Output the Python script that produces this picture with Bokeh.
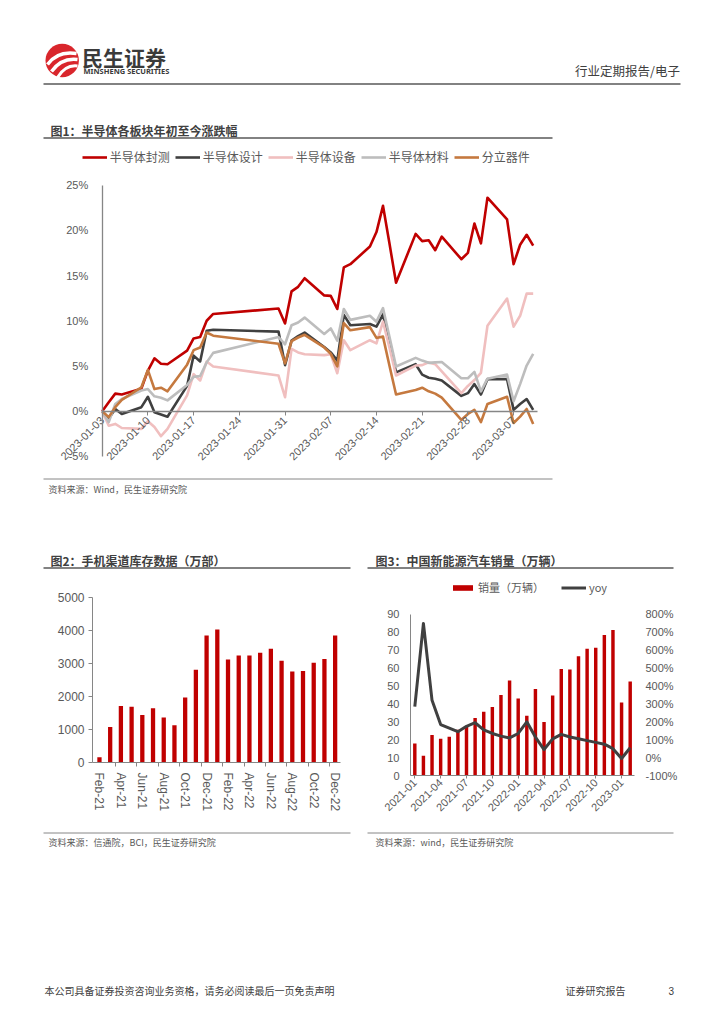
import math
import pandas as pd
from bokeh.plotting import figure
from bokeh.models import (Range1d, FixedTicker, Legend, LegendItem, LinearAxis)
from bokeh.layouts import column, row
from bokeh.embed import file_html
from bokeh.resources import INLINE
from bokeh.core.properties import value

CJK = "Noto Sans CJK SC"
NUM = "Liberation Sans"
TXT = "#404040"
SUB = "#595959"
AX = "#868686"
RED = "#C00000"

# ---------------- 图1 data ----------------
dates1 = ["2023-01-03", "2023-01-04", "2023-01-05", "2023-01-06", "2023-01-09", "2023-01-10",
          "2023-01-11", "2023-01-12", "2023-01-13", "2023-01-16", "2023-01-17", "2023-01-18",
          "2023-01-19", "2023-01-20", "2023-01-30", "2023-01-31", "2023-02-01", "2023-02-02",
          "2023-02-03", "2023-02-06", "2023-02-07", "2023-02-08", "2023-02-09", "2023-02-10",
          "2023-02-13", "2023-02-14", "2023-02-15", "2023-02-16", "2023-02-17", "2023-02-20",
          "2023-02-21", "2023-02-22", "2023-02-23", "2023-02-24", "2023-02-27", "2023-02-28",
          "2023-03-01", "2023-03-02", "2023-03-03", "2023-03-06", "2023-03-07", "2023-03-08",
          "2023-03-09", "2023-03-10"]
s_fengce = [0, 1.0, 1.95, 1.85, 2.5, 4.5, 5.85, 5.25, 5.2, 6.7, 8.05, 8.2, 10.0, 10.75,
            11.35, 9.7, 13.25, 13.75, 14.7, 12.8, 12.75, 11.3, 15.9, 16.25, 18.2, 19.8, 22.7,
            18.5, 14.2, 19.6, 18.8, 18.9, 17.8, 19.3, 16.8, 17.5, 20.75, 18.55, 23.6, 21.2,
            16.25, 18.4, 19.5, 18.3]
s_sheji = [0, -0.8, 0.25, -0.3, 0.45, 1.6, -0.1, -0.35, -0.6, 2.8, 6.15, 5.5, 8.9, 9.0,
           8.8, 5.1, 7.8, 8.3, 8.7, 7.1, 6.5, 5.6, 10.65, 9.5, 9.65, 9.35, 10.7, 7.5, 4.3,
           5.2, 4.05, 3.7, 3.6, 3.4, 1.7, 2.0, 3.0, 1.85, 3.55, 3.55, 0.15, 0.8, 1.35, 0.15]
s_shebei = [0, -1.6, -1.4, -1.85, -1.95, -1.1, -1.75, -2.75, -1.95, 1.75, 4.1, 3.4, 5.5, 4.95,
            3.95, 1.55, 6.9, 6.5, 6.3, 6.2, 6.3, 4.2, 7.85, 6.75, 7.85, 7.5, 9.9, 7.0, 3.95,
            5.05, 5.1, 5.4, 5.2, 4.4, 2.0, 2.8, 3.45, 4.25, 9.45, 12.45, 9.35, 10.55, 13.0, 13.0]
s_cailiao = [0, -1.2, 0.8, 1.35, 2.3, 2.45, 1.65, 1.5, 1.2, 2.9, 3.8, 3.9, 5.4, 6.45,
             8.2, 7.4, 9.5, 9.8, 10.35, 8.55, 9.15, 7.8, 11.3, 10.1, 10.55, 9.9, 11.4, 8.2, 4.95,
             5.9, 5.6, 5.35, 5.4, 5.45, 3.65, 3.65, 4.35, 2.2, 3.6, 4.05, 1.1, 3.0, 5.05, 6.35]
s_fenli = [0, -0.65, 0.45, 1.25, 2.65, 4.55, 2.45, 2.6, 2.2, 5.15, 6.75, 7.05, 8.7, 8.35,
           7.45, 5.3, 7.75, 8.15, 8.45, 7.05, 6.35, 4.95, 9.75, 8.95, 9.3, 8.1, 8.25, 5.0, 1.85,
           2.35, 2.6, 2.2, 1.95, 1.5, -0.95, -0.3, 0.15, -1.2, 0.8, 1.6, -1.3, -0.6, 0.25, -1.4]
names1 = ["半导体封测", "半导体设计", "半导体设备", "半导体材料", "分立器件"]
colors1 = [RED, "#404040", "#F0BFBF", "#BDBDBD", "#C5793F"]
ticks1 = ["2023-01-03", "2023-01-10", "2023-01-17", "2023-01-24", "2023-01-31",
          "2023-02-07", "2023-02-14", "2023-02-21", "2023-02-28", "2023-03-07"]
yticks1 = [-5, 0, 5, 10, 15, 20, 25]

# ---------------- 图2 data ----------------
months2 = ["Feb-21", "Mar-21", "Apr-21", "May-21", "Jun-21", "Jul-21", "Aug-21", "Sep-21",
           "Oct-21", "Nov-21", "Dec-21", "Jan-22", "Feb-22", "Mar-22", "Apr-22", "May-22",
           "Jun-22", "Jul-22", "Aug-22", "Sep-22", "Oct-22", "Nov-22", "Dec-22"]
stock2 = [160, 1080, 1715, 1690, 1445, 1645, 1365, 1130, 1970, 2815, 3855, 4035, 3130, 3250,
          3250, 3330, 3450, 3090, 2765, 2775, 3030, 3140, 3855]
yticks2 = [0, 1000, 2000, 3000, 4000, 5000]

# ---------------- 图3 data ----------------
months3 = ["2021-01", "2021-02", "2021-03", "2021-04", "2021-05", "2021-06", "2021-07",
           "2021-08", "2021-09", "2021-10", "2021-11", "2021-12", "2022-01", "2022-02",
           "2022-03", "2022-04", "2022-05", "2022-06", "2022-07", "2022-08", "2022-09",
           "2022-10", "2022-11", "2022-12", "2023-01", "2023-02"]
sales3 = [17.9, 11.0, 22.6, 20.6, 21.7, 25.6, 27.1, 32.1, 35.7, 38.3, 45.0, 53.1, 43.1, 33.4,
          48.4, 29.9, 44.7, 59.6, 59.3, 66.6, 70.8, 71.4, 78.6, 81.4, 40.8, 52.5]
yoy3 = [285, 750, 320, 185, 165, 145, 175, 195, 155, 135, 120, 110, 135, 200, 115, 45, 105,
        130, 115, 105, 95, 85, 75, 50, -5, 55]
yticks3l = [0, 10, 20, 30, 40, 50, 60, 70, 80, 90]
yticks3r = [-100, 0, 100, 200, 300, 400, 500, 600, 700, 800]


def base(**kw):
    p = figure(output_backend="svg", toolbar_location=None, **kw)
    p.grid.visible = False
    p.outline_line_color = None
    p.background_fill_color = "white"
    p.border_fill_color = "white"
    return p


def canvas(w, h, top):
    # page-pixel canvas for headings, rules and notes
    return base(width=w, height=h, x_range=Range1d(0, w), y_range=Range1d(top + h, top),
                x_axis_location=None, y_axis_location=None, min_border=0)


def txt(p, x, y, s, size, color=TXT, bold=False, align="left", font=CJK):
    p.text(x=[x], y=[y], text=[s], text_font=value(font), text_font_size=size,
           text_color=color, text_align=align, text_baseline="middle",
           text_font_style="bold" if bold else "normal")


def rule(p, x0, x1, y, color=SUB, w=1.5):
    p.segment(x0=[x0], y0=[y], x1=[x1], y1=[y], line_color=color, line_width=w)


def style_axis(a, size, tick_out=0, standoff=4, line=AX):
    a.major_label_text_font = NUM
    a.major_label_text_font_size = size
    a.major_label_text_color = SUB
    a.major_tick_in = 0
    a.major_tick_out = tick_out
    a.major_tick_line_color = AX if tick_out else None
    a.minor_tick_line_color = None
    a.major_label_standoff = standoff
    a.axis_line_color = line


# ---------------- header ----------------
pH = canvas(724, 140, 0)
pH.circle(x=[61.7], y=[60], radius=16.7, fill_color="#D9262C", line_color=None)
for (sx, sy, cx, cy, ex, ey, lw) in [(47, 64, 57, 50, 76, 53, 3.5), (51, 71, 61, 57, 77, 59, 3.5),
                                     (57, 77, 65, 64, 77, 65.5, 3)]:
    pH.quadratic(x0=[sx], y0=[sy], x1=[ex], y1=[ey], cx=[cx], cy=[cy], line_color="white",
                 line_width=lw)
txt(pH, 81.5, 56, "民生证券", "21px", "#3A3A3A", bold=True)
txt(pH, 83, 70.5, "MINSHENG SECURITIES", "7.5px", "#3A3A3A", bold=True, font="Noto Sans")
txt(pH, 679.5, 69.5, "行业定期报告/电子", "12.5px", TXT, align="right")
rule(pH, 43, 680, 83.5)
txt(pH, 50, 129.5, "图1：半导体各板块年初至今涨跌幅", "12px", TXT, bold=True)
rule(pH, 43, 552, 137.5)

# ---------------- 图1 ----------------
# The plot frame spans the full page width; both axes are fixed at day 0 / 0 %,
# so that the rotated date labels may extend to the left of the value axis.
PX_DAY = 6.53
ORIGIN_PX = 101.7
d0 = pd.Timestamp(dates1[0])
day1 = [(pd.Timestamp(d) - d0).days for d in dates1]
tick_days = [(pd.Timestamp(d) - d0).days for d in ticks1]
last_day = day1[-1] + 0.6
p1 = base(width=724, height=335,
          x_range=Range1d(-ORIGIN_PX / PX_DAY, (724 - ORIGIN_PX) / PX_DAY),
          y_range=Range1d(-7.10, 29.92), x_axis_location="below", y_axis_location="left",
          min_border=0)
ya = p1.yaxis[0]
ya.fixed_location = 0
ya.ticker = FixedTicker(ticks=yticks1)
ya.bounds = (-5, 25)
ya.major_label_overrides = {t: f"{t}%" for t in yticks1}
style_axis(ya, "11px", tick_out=0, standoff=14)
ya.axis_line_width = 1.3
xa1 = p1.xaxis[0]
xa1.fixed_location = 0
xa1.bounds = (0, last_day)
xa1.ticker = FixedTicker(ticks=tick_days)
xa1.major_label_overrides = {d: s for d, s in zip(tick_days, ticks1)}
xa1.major_label_orientation = math.pi / 4
style_axis(xa1, "11px", tick_out=4, standoff=3)
xa1.axis_line_width = 1.5

series1 = [s_fengce, s_sheji, s_shebei, s_cailiao, s_fenli]
rs = []
for vals, col in zip(series1, colors1):
    rs.append(p1.line(day1, vals, line_color=col, line_width=2.6, line_join="round"))
leg1 = Legend(items=[LegendItem(label=n, renderers=[r]) for n, r in zip(names1, rs)],
              orientation="horizontal", location=(81.7, 310), glyph_width=25, glyph_height=12,
              label_height=12, label_standoff=3, spacing=5, padding=0, margin=0,
              border_line_color=None, background_fill_alpha=0, label_text_font=CJK,
              label_text_font_size="12px", label_text_color=SUB)
p1.add_layout(leg1)

# ---------------- middle notes ----------------
pM = canvas(724, 95, 475)
rule(pM, 43, 552, 478.5, AX, 1)
txt(pM, 48, 489, "资料来源：Wind，民生证券研究院", "9px", SUB)
txt(pM, 50, 560, "图2：手机渠道库存数据（万部）", "12px", TXT, bold=True)
rule(pM, 43, 350, 567.5)
txt(pM, 375, 560, "图3：中国新能源汽车销量（万辆）", "12px", TXT, bold=True)
rule(pM, 367, 673, 567.5)

# ---------------- 图2 ----------------
idx2 = list(range(len(months2)))
p2 = base(width=365, height=258, x_range=Range1d(-0.65, 22.5), y_range=Range1d(0, 5525),
          min_border_left=92, min_border_right=25, min_border_top=10, min_border_bottom=66)
p2.vbar(x=idx2, top=stock2, width=0.4, fill_color=RED, line_color=None)
xa = p2.xaxis[0]
xa.ticker = FixedTicker(ticks=idx2[::2], minor_ticks=[i + 1.5 for i in idx2[:-1:2]])
xa.major_label_overrides = {i: months2[i] for i in idx2[::2]}
xa.major_label_orientation = "vertical"
style_axis(xa, "12px", tick_out=0, standoff=6)
xa.minor_tick_out = 4
xa.minor_tick_in = 0
xa.minor_tick_line_color = AX
ya2 = p2.yaxis[0]
ya2.ticker = FixedTicker(ticks=yticks2)
ya2.bounds = (0, 5000)
style_axis(ya2, "12px", tick_out=4, standoff=4)

# ---------------- 图3 ----------------
idx3 = list(range(len(months3)))
p3 = base(width=359, height=258, x_range=Range1d(-0.5, 25.5), y_range=Range1d(0, 109.0),
          min_border_left=45, min_border_right=90, min_border_top=10, min_border_bottom=53)
p3.extra_y_ranges = {"yoy": Range1d(-100, 990)}
rb = p3.vbar(x=idx3, top=sales3, width=0.4, fill_color=RED, line_color=None)
rl = p3.line(idx3, yoy3, y_range_name="yoy", line_color="#404040", line_width=3,
             line_join="round")
xa3 = p3.xaxis[0]
xa3.ticker = FixedTicker(ticks=idx3[::3])
xa3.major_label_overrides = {i: months3[i] for i in idx3[::3]}
xa3.major_label_orientation = math.pi / 4
style_axis(xa3, "11px", tick_out=3, standoff=2)
ya3 = p3.yaxis[0]
ya3.ticker = FixedTicker(ticks=yticks3l)
ya3.bounds = (0, 90)
style_axis(ya3, "11px", tick_out=0, standoff=11)
yr3 = LinearAxis(y_range_name="yoy", ticker=FixedTicker(ticks=yticks3r))
yr3.bounds = (-100, 800)
yr3.major_label_overrides = {t: f"{t}%" for t in yticks3r}
style_axis(yr3, "11px", tick_out=0, standoff=11, line=None)
p3.add_layout(yr3, "right")
leg3 = Legend(items=[LegendItem(label="销量（万辆）", renderers=[rb]),
                     LegendItem(label="yoy", renderers=[rl])],
              orientation="horizontal", location=(40, 180), glyph_width=25, glyph_height=7,
              label_height=12, label_standoff=3, spacing=17, padding=0, margin=0,
              border_line_color=None, background_fill_alpha=0, label_text_font=CJK,
              label_text_font_size="11px", label_text_color=SUB)
p3.add_layout(leg3)

# ---------------- bottom notes ----------------
pS = canvas(724, 196, 828)
rule(pS, 43, 350, 832.5, AX, 1)
rule(pS, 367, 673, 832.5, AX, 1)
txt(pS, 48, 842, "资料来源：信通院，BCI，民生证券研究院", "9px", SUB)
txt(pS, 375, 842, "资料来源：wind，民生证券研究院", "9px", SUB)
txt(pS, 44, 990, "本公司具备证券投资咨询业务资格，请务必阅读最后一页免责声明", "10px", TXT)
txt(pS, 565, 990, "证券研究报告", "10px", TXT)
txt(pS, 668, 990, "3", "10px", TXT, font=NUM)

# each plot sits in its own container so that Bokeh does not align their frames
page = column(row(pH), row(p1), row(pM), row(column(p2), column(p3)), row(pS))
open("out.html", "w").write(file_html(page, INLINE))
